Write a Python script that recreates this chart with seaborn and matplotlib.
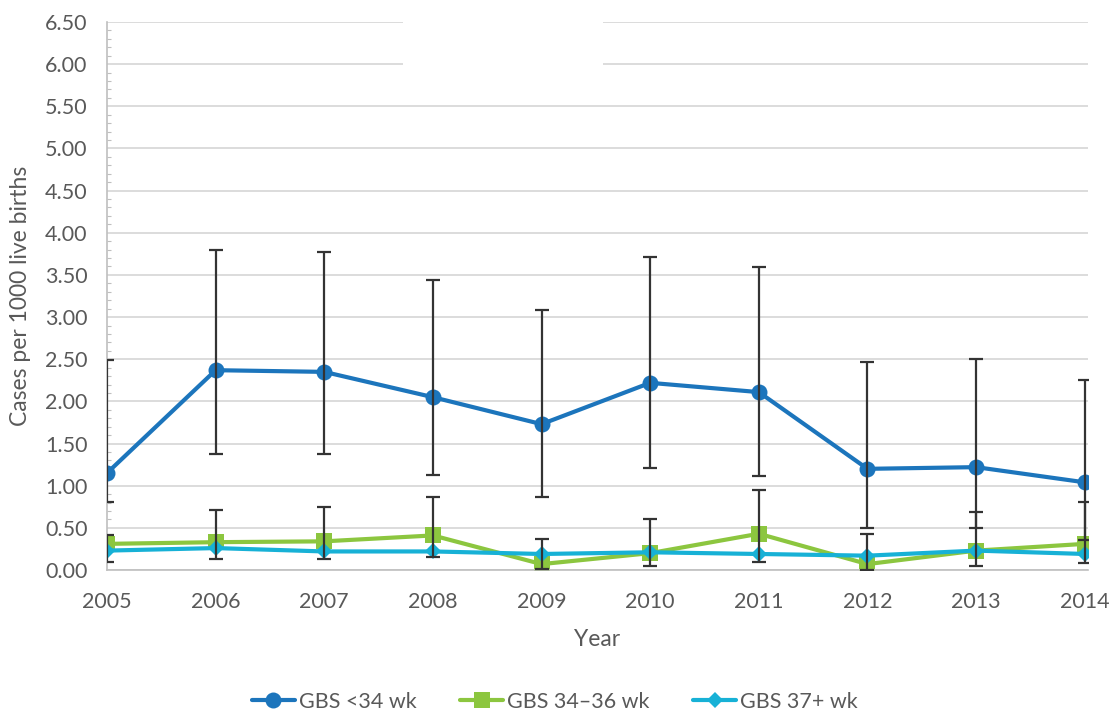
import numpy as np
import pandas as pd
import matplotlib
matplotlib.use("Agg")
import matplotlib.pyplot as plt
from matplotlib.patches import Rectangle
from matplotlib.ticker import MultipleLocator, FormatStrFormatter
import seaborn as sns

# Early-onset GBS incidence by gestational age group
years = [2005, 2006, 2007, 2008, 2009, 2010, 2011, 2012, 2013, 2014]
series_names = ["GBS <34 wk", "GBS 34\u201336 wk", "GBS 37+ wk"]

rate_lt34 = [1.15, 2.37, 2.35, 2.05, 1.73, 2.22, 2.11, 1.20, 1.22, 1.04]
rate_34_36 = [0.31, 0.33, 0.34, 0.41, 0.07, 0.20, 0.43, 0.07, 0.23, 0.31]
rate_37p = [0.23, 0.26, 0.22, 0.22, 0.19, 0.21, 0.19, 0.17, 0.23, 0.19]

# 95% confidence limits
lt34_low = [0.81, 1.38, 1.38, 1.13, 0.87, 1.21, 1.12, 0.50, 0.50, 0.36]
lt34_high = [2.49, 3.80, 3.77, 3.44, 3.08, 3.71, 3.59, 2.47, 2.50, 2.25]
mid_low = [0.09, 0.13, 0.13, 0.16, 0.01, 0.05, 0.10, 0.00, 0.05, 0.08]
mid_high = [0.41, 0.71, 0.75, 0.86, 0.37, 0.60, 0.95, 0.43, 0.69, 0.81]

colors = ["#1c75bc", "#8cc63f", "#17b1d6"]
markers = ["o", "s", "D"]
marker_sizes = [11.5, 11, 8]

df = pd.DataFrame({
    "Year": years * 3,
    "Rate": rate_lt34 + rate_34_36 + rate_37p,
    "Group": sum([[n] * len(years) for n in series_names], []),
})

sns.set_theme(style="white")
plt.rcParams["font.family"] = ["Lato", "DejaVu Sans"]
text_color = "#595959"

fig = plt.figure(figsize=(11.10, 7.13), dpi=100)
ax = fig.add_axes([107 / 1110, 1 - 570 / 713, (1088 - 107) / 1110, (570 - 22) / 713])

# confidence intervals
ax.errorbar(years, rate_lt34,
            yerr=[np.array(rate_lt34) - np.array(lt34_low),
                  np.array(lt34_high) - np.array(rate_lt34)],
            fmt="none", ecolor="#333333", elinewidth=1.6, capsize=5, capthick=1.6,
            zorder=3)
ax.errorbar(years, rate_34_36,
            yerr=[np.array(rate_34_36) - np.array(mid_low),
                  np.array(mid_high) - np.array(rate_34_36)],
            fmt="none", ecolor="#333333", elinewidth=1.6, capsize=5, capthick=1.6,
            zorder=3)

for name, col, mk, ms in zip(series_names, colors, markers, marker_sizes):
    sub = df[df["Group"] == name]
    sns.lineplot(data=sub, x="Year", y="Rate", ax=ax, color=col, marker=mk,
                 markersize=ms, markeredgewidth=0, linewidth=3.0, label=name,
                 zorder=2.5, legend=False)

ax.set_xlim(2005, 2014.03)
ax.set_ylim(0, 6.5)
ax.yaxis.set_major_locator(MultipleLocator(0.5))
ax.yaxis.set_minor_locator(MultipleLocator(0.1))
ax.yaxis.set_major_formatter(FormatStrFormatter("%.2f"))
ax.set_xticks(years)
ax.set_xticklabels([str(y) for y in years])
ax.grid(axis="y", color="#d9d9d9", linewidth=1.3)
ax.set_axisbelow(True)
for s in ["top", "right"]:
    ax.spines[s].set_visible(False)
for s in ["left", "bottom"]:
    ax.spines[s].set_color("#bfbfbf")
    ax.spines[s].set_linewidth(1.2)
ax.tick_params(axis="y", which="major", length=0, labelsize=15.5,
               labelcolor=text_color, pad=14)
ax.tick_params(axis="y", which="minor", left=True, length=3, width=0.8,
               color="#bfbfbf", direction="in")
ax.tick_params(axis="x", length=0, labelsize=15.5, labelcolor=text_color, pad=16)
ax.set_xlabel("Year", fontsize=16.5, color=text_color, labelpad=12)
ax.set_ylabel("Cases per 1000 live births", fontsize=16.5, color=text_color,
              labelpad=10)

handles = [plt.Line2D([], [], color=c, marker=m, markersize=s, markeredgewidth=0,
                      linewidth=3.0) for c, m, s in zip(colors, markers, marker_sizes)]
fig.legend(handles, series_names, loc="center", bbox_to_anchor=(0.5, 1 - 702 / 713),
           ncol=3, frameon=False, fontsize=15.5, handlelength=2.0,
           columnspacing=2.0, handletextpad=0.2, labelcolor=text_color)

# blank panel over the upper plot area
fig.patches.append(Rectangle((403 / 1110, 1 - 67 / 713), 200 / 1110, 49 / 713,
                             transform=fig.transFigure, facecolor="white",
                             edgecolor="none", zorder=5))

fig.savefig("out.png", dpi=100, facecolor="white")
